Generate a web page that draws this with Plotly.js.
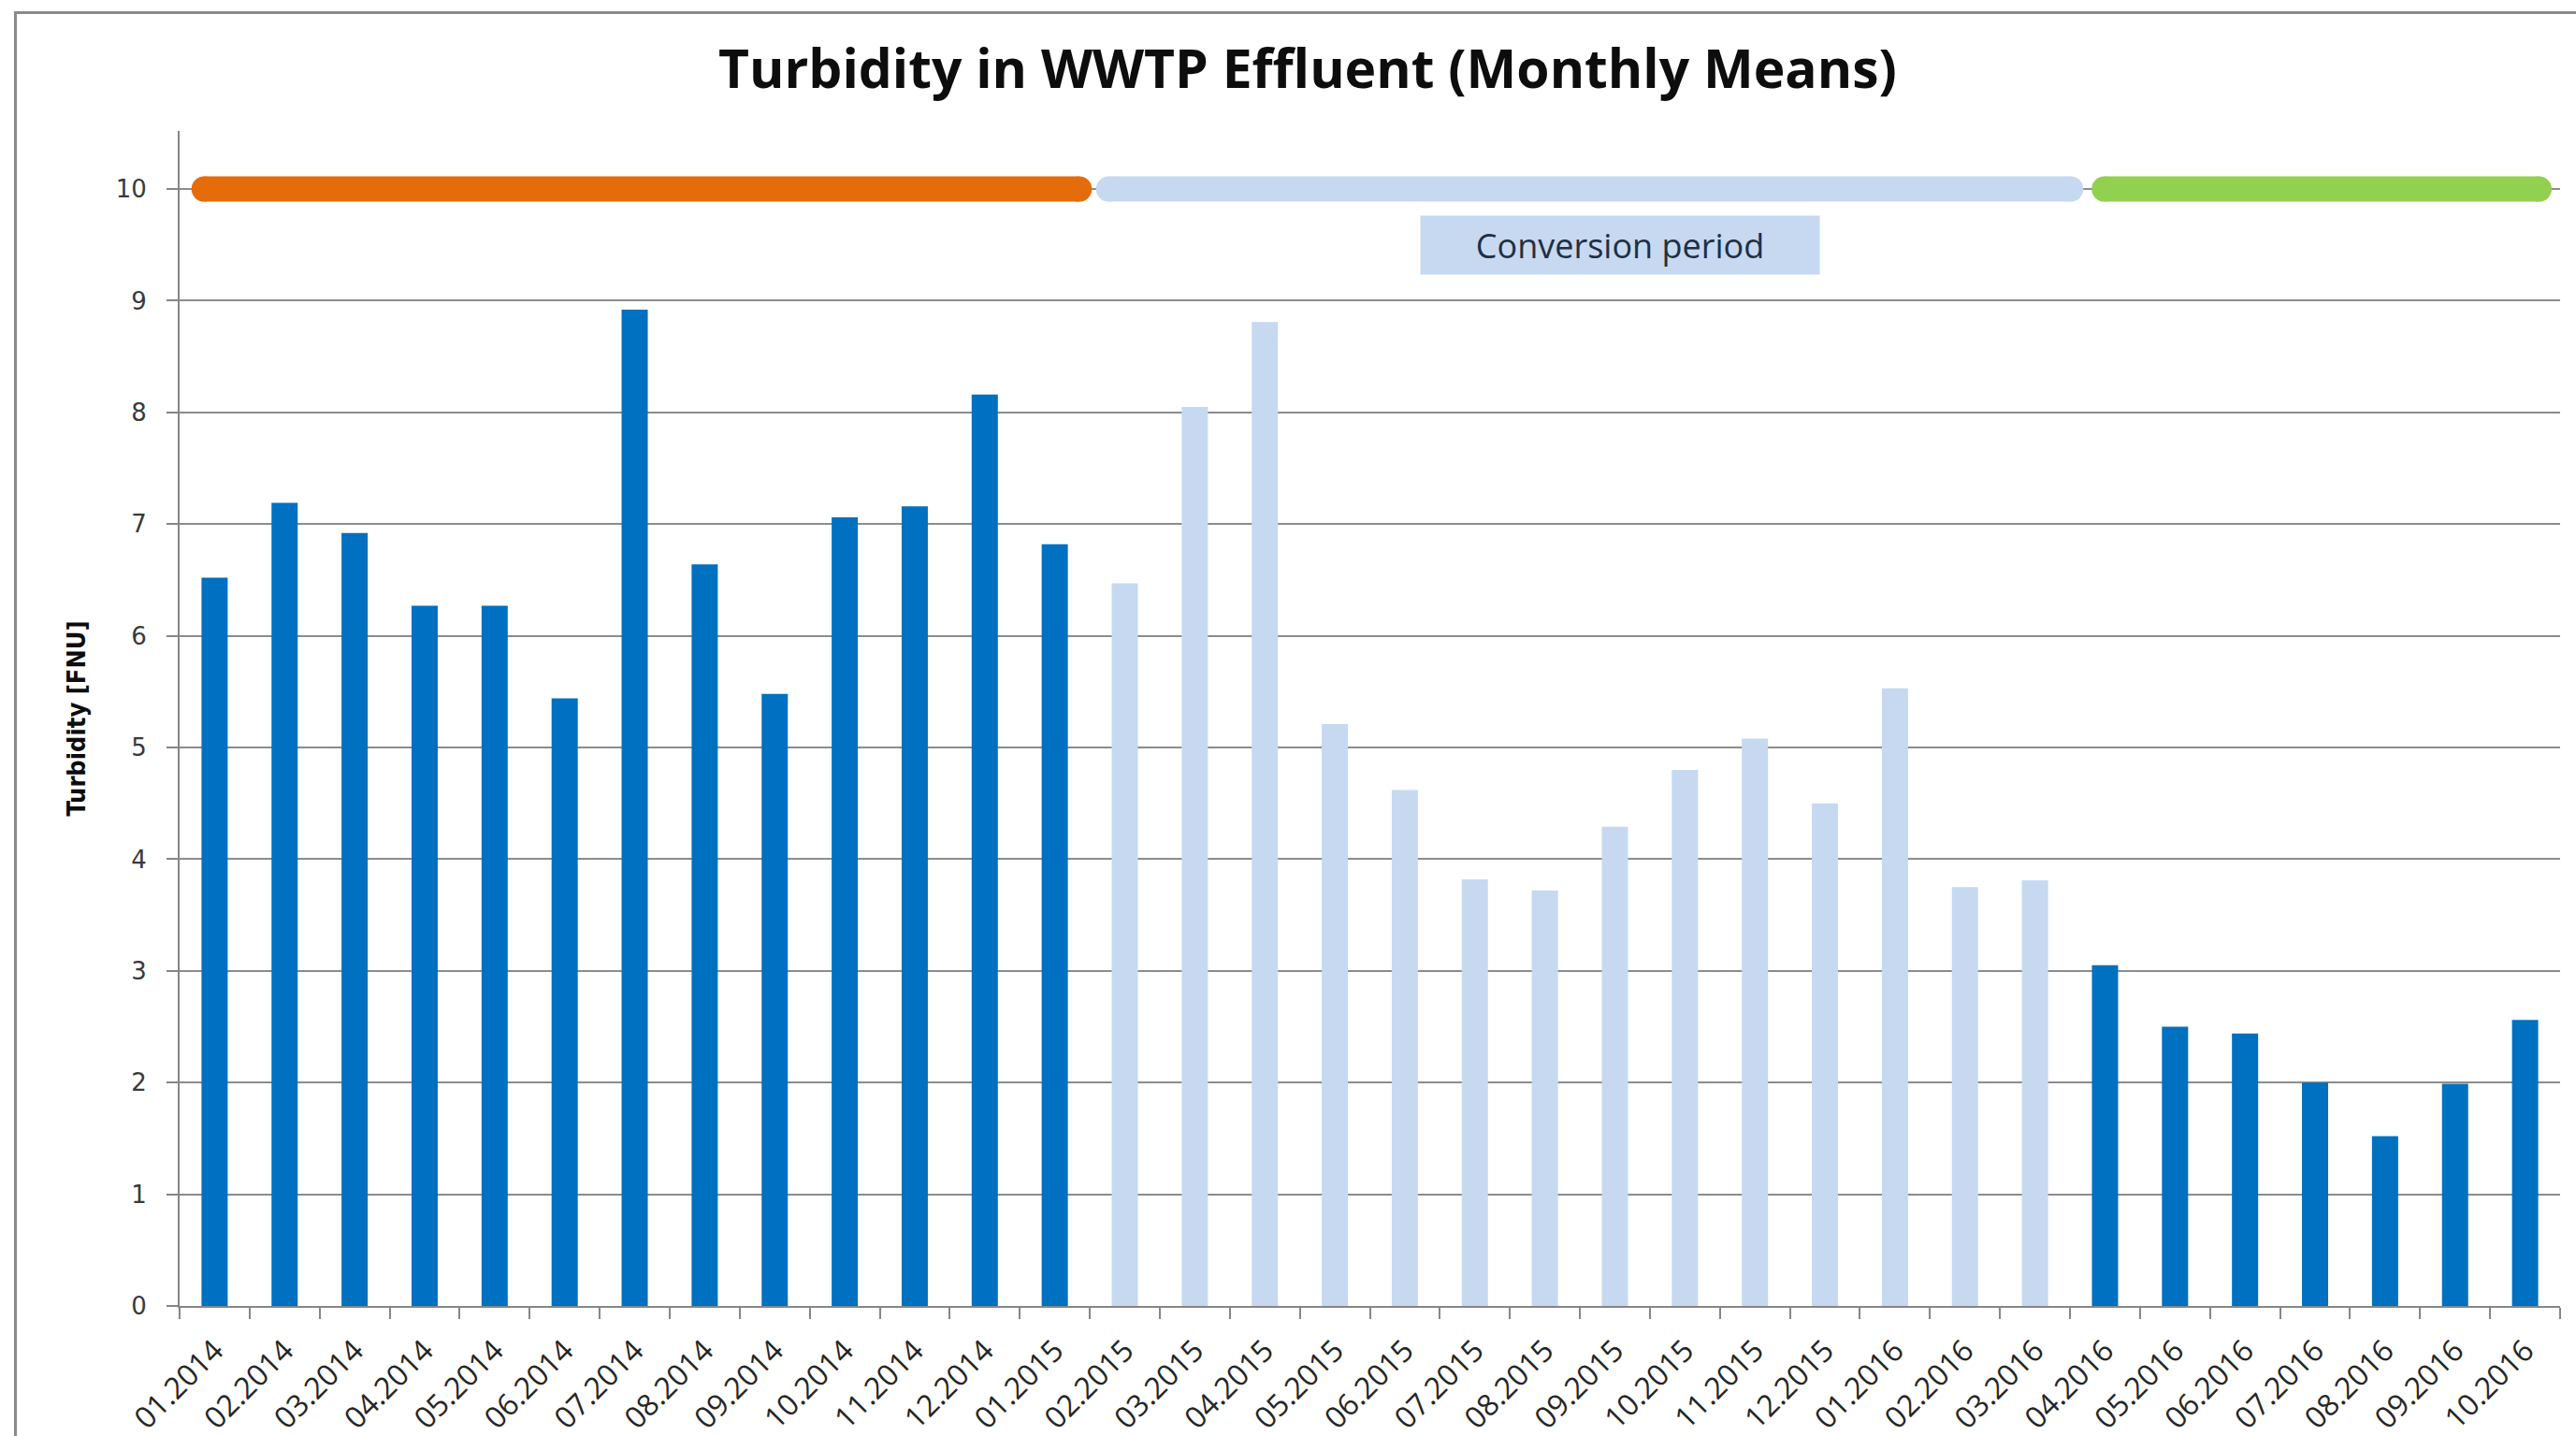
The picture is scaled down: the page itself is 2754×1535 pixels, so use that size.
<!DOCTYPE html>
<html>
<head>
<meta charset="utf-8">
<script src="https://cdn.plot.ly/plotly-3.0.1.min.js"></script>
<style>
html, body { margin: 0; padding: 0; background: #ffffff; overflow: hidden; }
#chart { width: 2754px; height: 1535px; }
#frame { position: absolute; left: 15px; top: 12px; width: 2800px; height: 1600px;
  border-left: 3px solid #8a8a8a; border-top: 3px solid #8a8a8a; pointer-events: none; }
</style>
</head>
<body>
<div id="chart"></div>
<div id="frame"></div>
<script>
// ---- data ----
const months = [
  '01.2014','02.2014','03.2014','04.2014','05.2014','06.2014','07.2014','08.2014','09.2014','10.2014','11.2014','12.2014',
  '01.2015','02.2015','03.2015','04.2015','05.2015','06.2015','07.2015','08.2015','09.2015','10.2015','11.2015','12.2015',
  '01.2016','02.2016','03.2016','04.2016','05.2016','06.2016','07.2016','08.2016','09.2016','10.2016'
];
const turbidity = [
  6.52, 7.19, 6.92, 6.27, 6.27, 5.44, 8.92, 6.64, 5.48, 7.06, 7.16, 8.16,
  6.82, 6.47, 8.05, 8.81, 5.21, 4.62, 3.82, 3.72, 4.29, 4.80, 5.08, 4.50,
  5.53, 3.75, 3.81, 3.05, 2.50, 2.44, 2.00, 1.52, 1.99, 2.56
];
const conversionFirst = '02.2015';
const conversionLast = '03.2016';

// period bars drawn at the top (in month-index units)
const periodNames = ['Before conversion', 'Conversion period', 'After conversion'];
const periodStart = [-0.15, 12.77, 26.99];
const periodEnd = [12.35, 26.51, 33.20];
const periodLevel = [10, 10, 10];
const periodColors = ['#E46C0A', '#C6D9F1', '#92D050'];

const conversionLabel = 'Conversion period';
const yTickVals = [0, 1, 2, 3, 4, 5, 6, 7, 8, 9, 10];

// ---- styling ----
const darkBlue = '#0070C0';
const lightBlue = '#C6D9F1';
const gridGray = '#8c8c8c';

const iFirst = months.indexOf(conversionFirst);
const iLast = months.indexOf(conversionLast);
const barColors = months.map((m, i) => (i >= iFirst && i <= iLast) ? lightBlue : darkBlue);

const traces = [{
  type: 'bar',
  x: months,
  y: turbidity,
  marker: { color: barColors, line: { width: 0 } },
  hoverinfo: 'x+y',
  showlegend: false
}];

periodNames.forEach((name, i) => {
  traces.push({
    type: 'scatter',
    mode: 'lines+markers',
    name: name,
    xaxis: 'x2',
    yaxis: 'y',
    x: [periodStart[i], periodEnd[i]],
    y: [periodLevel[i], periodLevel[i]],
    line: { color: periodColors[i], width: 27 },
    marker: { color: periodColors[i], size: 27, line: { width: 0 } },
    hoverinfo: 'name',
    showlegend: false,
    cliponaxis: false
  });
});

const layout = {
  width: 2754,
  height: 1535,
  paper_bgcolor: '#ffffff',
  plot_bgcolor: '#ffffff',
  margin: { l: 192, r: 17, t: 140, b: 139, pad: 0 },
  bargap: 0.626,
  title: {
    text: 'Turbidity in WWTP Effluent (Monthly Means)',
    font: { family: 'Open Sans, sans-serif', size: 57, color: '#0d0d0d', weight: 'bold' },
    xref: 'container', x: 0.5076, xanchor: 'center',
    yref: 'container', y: 0.952, yanchor: 'middle'
  },
  xaxis: {
    type: 'category',
    range: [-0.5, months.length - 0.5],
    tickson: 'boundaries',
    ticks: 'outside', ticklen: 12, tickwidth: 2, tickcolor: '#868686',
    showline: true, linecolor: '#868686', linewidth: 2,
    showgrid: false, zeroline: false,
    tickangle: -45,
    ticklabelstandoff: 14,
    tickfont: { family: 'Open Sans, sans-serif', size: 32, color: '#262626' },
    fixedrange: true
  },
  xaxis2: {
    overlaying: 'x',
    range: [-0.5, months.length - 0.5],
    visible: false,
    fixedrange: true
  },
  yaxis: {
    range: [0, 10.52],
    tickmode: 'array',
    tickvals: yTickVals,
    ticktext: yTickVals.map(String),
    showgrid: true, gridcolor: gridGray, gridwidth: 2,
    zeroline: false,
    showline: true, linecolor: '#868686', linewidth: 2,
    ticks: 'outside', ticklen: 12, tickwidth: 2, tickcolor: '#868686',
    ticklabelstandoff: 16,
    tickfont: { family: 'DejaVu Sans, sans-serif', size: 26, color: '#3a3a3a' },
    title: {
      text: 'Turbidity [FNU]',
      font: { family: 'Liberation Sans Narrow, DejaVu Sans Condensed, sans-serif', size: 27, color: '#0d0d0d', weight: 'bold' },
      standoff: 24
    },
    fixedrange: true
  },
  annotations: [{
    text: conversionLabel,
    xref: 'x2', yref: 'y',
    x: 20.07, y: 9.5,
    showarrow: false,
    bgcolor: lightBlue,
    width: 426, height: 62,
    borderpad: 0,
    font: { family: 'Open Sans, sans-serif', size: 36, color: '#1F2F44' }
  }]
};

Plotly.newPlot('chart', traces, layout, { staticPlot: true, displayModeBar: false });
</script>
</body>
</html>
